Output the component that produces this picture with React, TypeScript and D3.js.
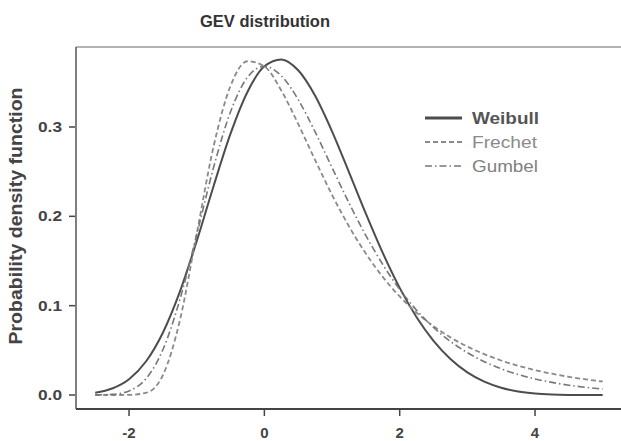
import React from "react";
import * as d3 from "d3";

// Sample grid (x) and density values for each GEV family
const xs = [
  -2.5, -2.25, -2.0, -1.75, -1.5, -1.25, -1.0, -0.75, -0.5, -0.25, 0.0, 0.25,
  0.5, 0.75, 1.0, 1.25, 1.5, 1.75, 2.0, 2.25, 2.5, 2.75, 3.0, 3.25, 3.5, 3.75,
  4.0, 4.25, 4.5, 4.75, 5.0,
];

const weibull = [
  0.0026, 0.0073, 0.0177, 0.0375, 0.0697, 0.1154, 0.1722, 0.234, 0.2925,
  0.3392, 0.3679, 0.3757, 0.3635, 0.335, 0.2952, 0.2496, 0.203, 0.159, 0.1199,
  0.087, 0.0606, 0.0403, 0.0253, 0.0149, 0.0081, 0.0039, 0.0016, 0.0005,
  0.0001, 0.0, 0.0,
];

const frechet = [
  0.0, 0.0, 0.0001, 0.0024, 0.0221, 0.0831, 0.1803, 0.2784, 0.346, 0.3736,
  0.3679, 0.3409, 0.3034, 0.263, 0.2241, 0.1889, 0.1583, 0.1322, 0.1103,
  0.0921, 0.077, 0.0645, 0.0542, 0.0457, 0.0386, 0.0328, 0.0279, 0.0238,
  0.0204, 0.0175, 0.0151,
];

const gumbel = [
  0.0001, 0.0007, 0.0046, 0.0182, 0.0507, 0.1064, 0.1794, 0.2549, 0.317,
  0.3556, 0.3679, 0.3574, 0.3307, 0.2945, 0.2546, 0.2151, 0.1785, 0.1461,
  0.1182, 0.0949, 0.0756, 0.06, 0.0474, 0.0373, 0.0293, 0.023, 0.018, 0.0141,
  0.011, 0.0086, 0.0067,
];

const xTicks = [-2, 0, 2, 4];
const yTicks = [0.0, 0.1, 0.2, 0.3];

const seriesNames = ["Weibull", "Frechet", "Gumbel"];

const FONT = "'Liberation Sans', Arial, Helvetica, sans-serif";

export default function App() {
  const W = 621;
  const H = 441;
  const left = 76;
  const top = 47;
  const bottom = 409;

  const x = d3.scaleLinear().domain([-2.5, 5]).range([95.2, 602.7]);
  const y = d3.scaleLinear().domain([0, 0.3]).range([395, 127]);

  const line = d3
    .line<number>()
    .x((_, i) => x(xs[i]))
    .y((d) => y(d))
    .curve(d3.curveMonotoneX);

  const styles = [
    { data: weibull, stroke: "#4d4d4d", width: 2, dash: undefined as string | undefined },
    { data: frechet, stroke: "#8a8a8a", width: 1.8, dash: "5,3" },
    { data: gumbel, stroke: "#777777", width: 1.6, dash: "7,3,1.5,3" },
  ];

  const legendY = [118, 142, 166];
  const legendText = [
    { weight: 700, fill: "#555555", len: 67 },
    { weight: 400, fill: "#8a8a8a", len: 65 },
    { weight: 400, fill: "#808080", len: 66 },
  ];
  const legendStroke = [3.2, 1.8, 1.6];

  const fmt = d3.format(".1f");

  return (
    <svg
      width={W}
      height={H}
      style={{ position: "absolute", left: 0, top: 0, background: "#fff" }}
      fontFamily={FONT}
    >
      <rect x={0} y={0} width={W} height={H} fill="#ffffff" />

      {/* title */}
      <text
        x={265}
        y={27}
        textAnchor="middle"
        fontSize={16.5}
        fontWeight={700}
        fill="#333"
        textLength={130}
        lengthAdjust="spacingAndGlyphs"
      >
        GEV distribution
      </text>

      {/* frame */}
      <line x1={left} x2={W} y1={top} y2={top} stroke="#9a9a9a" strokeWidth={1.5} />
      <line x1={left} x2={left} y1={top} y2={bottom} stroke="#555" strokeWidth={1.5} />
      <line x1={left} x2={W} y1={bottom} y2={bottom} stroke="#444" strokeWidth={1.8} />

      {/* y axis */}
      {yTicks.map((t) => (
        <g key={"y" + t}>
          <line x1={left - 7} x2={left - 1} y1={y(t)} y2={y(t)} stroke="#444" strokeWidth={1.5} />
          <text
            x={62}
            y={y(t) + 5}
            textAnchor="end"
            fontSize={15}
            fontWeight={700}
            fill="#444"
            textLength={24}
            lengthAdjust="spacingAndGlyphs"
          >
            {fmt(t)}
          </text>
        </g>
      ))}

      {/* x axis */}
      {xTicks.map((t) => (
        <g key={"x" + t}>
          <line x1={x(t)} x2={x(t)} y1={bottom + 1} y2={bottom + 7} stroke="#444" strokeWidth={1.5} />
          <text
            x={x(t)}
            y={438}
            textAnchor="middle"
            fontSize={15}
            fontWeight={700}
            fill="#444"
          >
            {t}
          </text>
        </g>
      ))}

      {/* y label */}
      <text
        transform={`translate(22,${216}) rotate(-90)`}
        textAnchor="middle"
        fontSize={18}
        fontWeight={700}
        fill="#444"
        textLength={257}
        lengthAdjust="spacingAndGlyphs"
      >
        Probability density function
      </text>

      {/* density curves */}
      {styles.map((s, i) => (
        <path
          key={seriesNames[i]}
          d={line(s.data) || ""}
          fill="none"
          stroke={s.stroke}
          strokeWidth={s.width}
          strokeDasharray={s.dash}
        />
      ))}

      {/* legend */}
      {seriesNames.map((name, i) => (
        <g key={"lg" + name}>
          <line
            x1={425}
            x2={462}
            y1={legendY[i]}
            y2={legendY[i]}
            stroke={styles[i].stroke}
            strokeWidth={legendStroke[i]}
            strokeDasharray={styles[i].dash}
          />
          <text
            x={472}
            y={legendY[i] + 6}
            fontSize={16}
            fontWeight={legendText[i].weight}
            fill={legendText[i].fill}
            textLength={legendText[i].len}
            lengthAdjust="spacingAndGlyphs"
          >
            {name}
          </text>
        </g>
      ))}
    </svg>
  );
}
